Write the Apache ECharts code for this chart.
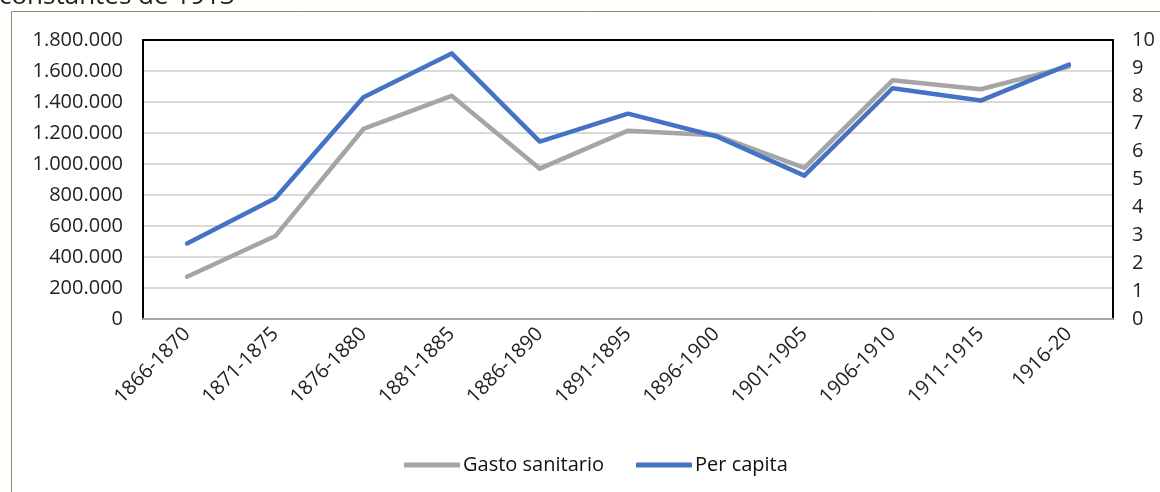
<!DOCTYPE html>
<html>
<head>
<meta charset="utf-8">
<script src="https://cdn.jsdelivr.net/npm/echarts@6/dist/echarts.min.js"></script>
<style>
html,body{margin:0;padding:0;background:#fff;}
#c{width:1160px;height:492px;}
</style>
</head>
<body>
<div id="c"></div>
<script>
const categories = ['1866-1870','1871-1875','1876-1880','1881-1885','1886-1890','1891-1895','1896-1900','1901-1905','1906-1910','1911-1915','1916-20'];
const gastoSanitario = [273000, 535000, 1226000, 1440000, 970000, 1215000, 1185000, 975000, 1540000, 1482000, 1628000];
const perCapita = [2.71, 4.33, 7.95, 9.52, 6.36, 7.36, 6.55, 5.14, 8.27, 7.83, 9.12];
const leftTicks = [0, 200000, 400000, 600000, 800000, 1000000, 1200000, 1400000, 1600000, 1800000];
const rightTicks = [0,1,2,3,4,5,6,7,8,9,10];

const FONT = '"Open Sans", "Noto Sans", sans-serif';
const chart = echarts.init(document.getElementById('c'), null, {renderer:'canvas'});
function fmt(v){ return String(v).replace(/\B(?=(\d{3})+(?!\d))/g, '.'); }
chart.setOption({
  animation:false,
  backgroundColor:'#fff',
  graphic:[
    {type:'rect', shape:{x:11.5, y:11.5, width:1300, height:700}, style:{fill:'none', stroke:'#7b9a5c', lineWidth:1}, silent:true, z:-1},
    {type:'text', x:-1, y:10, style:{text:'constantes de 1913', font:'26px '+FONT, fill:'#222', verticalAlign:'bottom'}}
  ],
  grid:{left:143, right:47, top:40, bottom:173},
  legend:{
    top:450, left:399,
    itemWidth:56, itemHeight:5, itemGap:32,
    textStyle:{fontFamily:FONT, fontSize:20, color:'#111', padding:[0,0,0,-2]},
    data:[{name:'Gasto sanitario', icon:'roundRect'},{name:'Per capita', icon:'roundRect'}]
  },
  xAxis:[{
    type:'category', data:categories, boundaryGap:true,
    axisLine:{show:true, onZero:false, lineStyle:{color:'#a6a6a6', width:2}},
    axisTick:{show:false},
    axisLabel:{rotate:45, margin:12, fontFamily:FONT, fontSize:20, color:'#222', interval:0}
  },{
    type:'category', data:categories, position:'top', boundaryGap:true,
    axisLine:{show:true, onZero:false, lineStyle:{color:'#000', width:2}},
    axisTick:{show:false}, axisLabel:{show:false}, splitLine:{show:false}
  }],
  yAxis:[
    {type:'value', min:0, max:1800000, interval:200000,
     axisLine:{show:true, lineStyle:{color:'#000', width:2}}, axisTick:{show:false},
     splitLine:{lineStyle:{color:'#d9d9d9', width:2}},
     axisLabel:{fontFamily:FONT, fontSize:20, color:'#222', margin:20, formatter:fmt}},
    {type:'value', min:0, max:10, interval:1,
     axisLine:{show:true, lineStyle:{color:'#000', width:2}}, axisTick:{show:false}, splitLine:{show:false},
     axisLabel:{fontFamily:FONT, fontSize:20, color:'#222', margin:19}}
  ],
  series:[
    {name:'Gasto sanitario', type:'line', data:gastoSanitario, yAxisIndex:0, symbol:'none',
     lineStyle:{color:'#a5a5a5', width:4.5, cap:'round', join:'round'}, itemStyle:{color:'#a5a5a5'}},
    {name:'Per capita', type:'line', data:perCapita, yAxisIndex:1, symbol:'none',
     lineStyle:{color:'#4472c4', width:4.5, cap:'round', join:'round'}, itemStyle:{color:'#4472c4'}}
  ]
});
</script>
</body>
</html>
